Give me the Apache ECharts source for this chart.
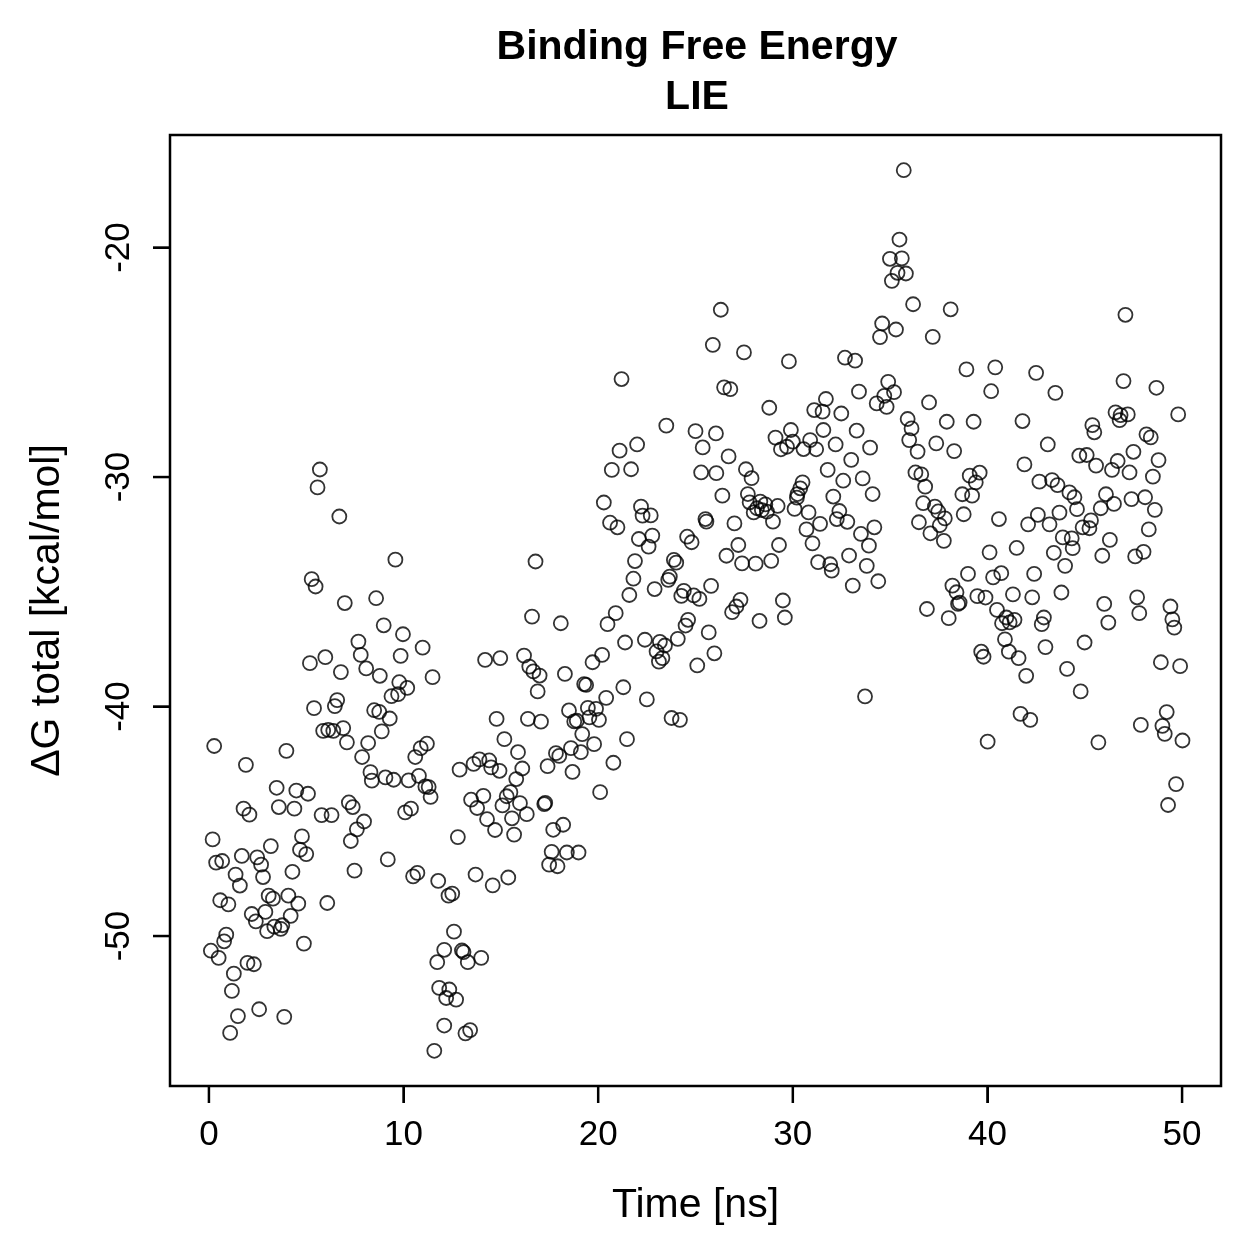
<!DOCTYPE html>
<html>
<head>
<meta charset="utf-8">
<script src="https://cdn.jsdelivr.net/npm/echarts@6/dist/echarts.min.js"></script>
<style>
  html, body { margin: 0; padding: 0; background: #fff; }
  #main { width: 1259px; height: 1259px; }
</style>
</head>
<body>
<div id="main"></div>
<script>
var timeNs = [
  0.10, 0.19, 0.27, 0.37, 0.50, 0.58, 0.68, 0.78, 0.89, 1.00,
  1.09, 1.18, 1.28, 1.37, 1.49, 1.59, 1.69, 1.78, 1.90, 1.98,
  2.08, 2.20, 2.31, 2.41, 2.48, 2.58, 2.68, 2.78, 2.90, 2.99,
  3.07, 3.18, 3.29, 3.36, 3.48, 3.59, 3.69, 3.77, 3.87, 3.98,
  4.08, 4.20, 4.29, 4.39, 4.49, 4.59, 4.68, 4.78, 4.88, 5.00,
  5.09, 5.19, 5.28, 5.40, 5.48, 5.58, 5.70, 5.79, 5.87, 5.98,
  6.08, 6.13, 6.30, 6.39, 6.47, 6.59, 6.70, 6.78, 6.90, 6.98,
  7.09, 7.19, 7.29, 7.39, 7.48, 7.60, 7.68, 7.80, 7.87, 7.97,
  8.08, 8.18, 8.30, 8.37, 8.49, 8.59, 8.75, 8.78, 8.88, 8.98,
  9.07, 9.19, 9.29, 9.38, 9.49, 9.58, 9.72, 9.78, 9.85, 9.97,
  10.08, 10.19, 10.26, 10.38, 10.49, 10.60, 10.71, 10.79, 10.88, 10.98,
  11.12, 11.20, 11.29, 11.39, 11.49, 11.58, 11.73, 11.78, 11.83, 12.09,
  12.09, 12.19, 12.31, 12.35, 12.50, 12.59, 12.70, 12.79, 12.88, 13.00,
  13.08, 13.18, 13.30, 13.42, 13.47, 13.60, 13.70, 13.78, 13.90, 13.99,
  14.10, 14.19, 14.29, 14.40, 14.50, 14.58, 14.70, 14.78, 14.93, 14.97,
  15.08, 15.18, 15.30, 15.38, 15.49, 15.57, 15.68, 15.79, 15.88, 15.98,
  16.10, 16.19, 16.33, 16.39, 16.46, 16.60, 16.67, 16.78, 16.89, 16.99,
  17.06, 17.23, 17.28, 17.40, 17.48, 17.61, 17.69, 17.83, 17.91, 18.00,
  18.08, 18.20, 18.29, 18.39, 18.50, 18.60, 18.68, 18.77, 18.90, 18.99,
  19.11, 19.18, 19.28, 19.38, 19.47, 19.55, 19.71, 19.79, 19.89, 20.04,
  20.10, 20.20, 20.29, 20.41, 20.48, 20.61, 20.70, 20.78, 20.90, 20.99,
  21.10, 21.20, 21.29, 21.38, 21.48, 21.60, 21.69, 21.81, 21.89, 22.00,
  22.09, 22.20, 22.28, 22.40, 22.50, 22.59, 22.70, 22.78, 22.90, 23.00,
  23.12, 23.17, 23.30, 23.43, 23.50, 23.60, 23.68, 23.77, 23.89, 24.01,
  24.09, 24.20, 24.27, 24.40, 24.49, 24.57, 24.62, 24.80, 24.91, 25.00,
  25.09, 25.20, 25.29, 25.37, 25.51, 25.56, 25.68, 25.80, 25.89, 25.97,
  26.05, 26.07, 26.30, 26.38, 26.47, 26.59, 26.70, 26.79, 26.88, 27.00,
  27.10, 27.20, 27.31, 27.39, 27.49, 27.59, 27.69, 27.78, 27.88, 27.99,
  28.09, 28.16, 28.29, 28.33, 28.41, 28.59, 28.67, 28.79, 28.89, 28.98,
  29.11, 29.22, 29.29, 29.39, 29.49, 29.59, 29.70, 29.80, 29.90, 30.00,
  30.09, 30.21, 30.24, 30.38, 30.50, 30.55, 30.70, 30.81, 30.89, 31.01,
  31.10, 31.20, 31.30, 31.40, 31.53, 31.57, 31.70, 31.79, 31.92, 32.00,
  32.08, 32.20, 32.26, 32.39, 32.49, 32.59, 32.68, 32.80, 32.89, 33.00,
  33.08, 33.20, 33.28, 33.40, 33.50, 33.59, 33.71, 33.80, 33.91, 33.97,
  34.10, 34.19, 34.31, 34.39, 34.48, 34.59, 34.70, 34.82, 34.90, 34.99,
  35.09, 35.20, 35.30, 35.38, 35.48, 35.60, 35.70, 35.81, 35.90, 35.98,
  36.10, 36.18, 36.30, 36.41, 36.48, 36.60, 36.70, 36.80, 36.89, 37.00,
  37.07, 37.19, 37.30, 37.37, 37.47, 37.55, 37.76, 37.81, 37.91, 38.01,
  38.11, 38.20, 38.29, 38.41, 38.49, 38.57, 38.71, 38.78, 38.92, 39.00,
  39.09, 39.21, 39.29, 39.40, 39.48, 39.60, 39.68, 39.80, 39.90, 40.01,
  40.11, 40.19, 40.29, 40.40, 40.49, 40.59, 40.71, 40.75, 40.90, 40.97,
  41.10, 41.14, 41.31, 41.39, 41.50, 41.60, 41.70, 41.80, 41.90, 41.99,
  42.09, 42.20, 42.30, 42.40, 42.50, 42.59, 42.67, 42.79, 42.90, 42.98,
  43.10, 43.19, 43.32, 43.41, 43.49, 43.60, 43.70, 43.80, 43.87, 43.99,
  44.09, 44.21, 44.33, 44.38, 44.47, 44.60, 44.72, 44.79, 44.89, 44.99,
  45.10, 45.24, 45.32, 45.39, 45.49, 45.58, 45.70, 45.82, 45.90, 46.00,
  46.09, 46.21, 46.29, 46.40, 46.50, 46.58, 46.69, 46.79, 46.84, 46.99,
  47.09, 47.21, 47.30, 47.40, 47.50, 47.59, 47.69, 47.80, 47.88, 48.02,
  48.10, 48.17, 48.29, 48.39, 48.50, 48.60, 48.68, 48.79, 48.91, 48.99,
  49.11, 49.21, 49.28, 49.40, 49.50, 49.60, 49.69, 49.80, 49.90, 50.02
];

var dGtotal = [
  -50.64, -45.79, -41.72, -46.80, -50.95, -48.44, -46.73, -50.23, -49.94, -48.62,
  -54.22, -52.39, -51.64, -47.32, -53.49, -47.80, -46.51, -44.45, -42.54, -51.17,
  -44.71, -49.04, -51.23, -49.36, -46.57, -53.19, -46.89, -47.43, -48.95, -49.79,
  -48.24, -46.08, -48.37, -49.59, -43.54, -44.38, -49.69, -49.53, -53.52, -41.93,
  -48.24, -49.12, -47.20, -44.45, -43.66, -48.59, -46.24, -45.66, -50.33, -46.43,
  -43.80, -38.11, -34.45, -40.07, -34.77, -30.45, -29.67, -44.73, -41.06, -37.85,
  -48.56, -41.02, -44.73, -41.06, -39.98, -39.72, -31.72, -38.50, -40.94, -35.49,
  -41.56, -44.18, -45.86, -44.38, -47.15, -45.35, -37.17, -37.75, -42.20, -45.01,
  -38.34, -41.59, -42.86, -43.23, -40.16, -35.28, -40.23, -38.66, -41.08, -36.46,
  -43.09, -46.66, -40.52, -39.55, -43.19, -33.60, -39.46, -38.94, -37.79, -36.85,
  -44.61, -39.19, -43.22, -44.45, -47.40, -42.20, -47.25, -43.02, -41.81, -37.43,
  -43.48, -41.62, -43.51, -43.94, -38.72, -55.00, -51.14, -47.60, -52.26, -50.60,
  -53.90, -52.70, -48.24, -52.33, -48.15, -49.81, -52.77, -45.69, -42.75, -50.63,
  -50.70, -54.24, -51.14, -54.10, -44.06, -42.50, -47.32, -44.42, -42.30, -50.95,
  -43.89, -37.97, -44.91, -42.35, -42.65, -47.79, -45.38, -40.54, -42.80, -37.89,
  -44.31, -41.42, -43.91, -47.45, -43.73, -44.87, -45.58, -43.16, -41.99, -44.21,
  -42.70, -37.78, -44.69, -40.54, -38.26, -36.08, -38.47, -33.68, -39.34, -38.65,
  -40.66, -44.25, -44.20, -42.60, -46.89, -46.33, -45.37, -42.03, -46.96, -42.15,
  -36.37, -45.15, -38.58, -46.36, -40.17, -41.81, -42.85, -40.65, -40.62, -46.36,
  -41.99, -41.20, -39.02, -39.06, -40.06, -40.47, -38.07, -41.64, -40.10, -40.58,
  -43.73, -37.75, -31.11, -39.62, -36.41, -31.99, -29.69, -42.45, -35.93, -32.19,
  -28.85, -25.73, -39.16, -37.21, -41.42, -35.14, -29.66, -34.43, -33.66, -28.58,
  -32.70, -31.29, -31.68, -37.09, -39.69, -33.03, -31.67, -32.55, -34.88, -37.60,
  -38.04, -37.18, -37.89, -37.34, -27.76, -34.48, -34.34, -40.50, -33.61, -33.73,
  -37.05, -40.58, -35.18, -34.96, -36.47, -32.60, -36.22, -32.84, -35.16, -28.00,
  -38.21, -35.31, -29.80, -28.71, -31.83, -31.94, -36.77, -34.74, -24.24, -37.68,
  -28.10, -29.83, -22.71, -30.81, -26.09, -33.43, -29.10, -26.17, -35.89, -32.02,
  -35.64, -32.96, -35.35, -33.76, -24.57, -29.66, -30.74, -31.10, -30.05, -31.54,
  -33.77, -31.36, -36.27, -31.07, -31.44, -31.19, -31.51, -26.98, -33.65, -31.94,
  -28.28, -31.26, -32.96, -28.79, -35.38, -36.12, -28.68, -24.96, -27.95, -28.46,
  -31.39, -30.90, -30.74, -30.49, -30.23, -28.78, -32.28, -31.54, -28.39, -32.89,
  -27.08, -28.79, -33.71, -32.04, -27.15, -27.95, -26.60, -29.69, -33.80, -34.08,
  -30.85, -28.58, -31.83, -31.48, -27.23, -30.16, -24.80, -31.95, -33.42, -29.25,
  -34.73, -24.93, -27.98, -26.28, -32.48, -30.06, -39.56, -33.87, -32.99, -28.72,
  -30.74, -32.19, -26.79, -34.54, -23.90, -23.31, -26.46, -26.94, -25.85, -20.49,
  -21.45, -26.30, -23.57, -21.10, -19.65, -20.47, -16.63, -21.13, -27.47, -28.39,
  -27.88, -22.47, -29.80, -28.89, -31.97, -29.88, -31.14, -30.42, -35.75, -26.75,
  -32.45, -23.89, -31.29, -28.53, -31.50, -32.10, -32.78, -31.80, -27.59, -36.15,
  -22.69, -34.73, -28.87, -35.02, -35.53, -35.47, -30.75, -31.62, -25.31, -34.22,
  -29.94, -30.81, -27.59, -30.23, -35.19, -29.81, -37.61, -37.83, -35.25, -41.53,
  -33.28, -26.26, -34.37, -25.22, -35.79, -31.83, -34.19, -36.37, -37.07, -36.12,
  -37.61, -36.33, -35.11, -36.22, -33.09, -37.89, -40.32, -27.56, -29.45, -38.66,
  -32.06, -40.58, -35.24, -34.22, -25.46, -31.65, -30.20, -36.41, -36.12, -37.41,
  -28.58, -32.06, -30.13, -33.30, -26.33, -30.35, -31.55, -35.03, -32.63, -33.87,
  -38.36, -30.67, -32.67, -33.10, -30.88, -31.40, -29.07, -39.34, -32.19, -37.21,
  -29.04, -32.23, -31.89, -27.74, -28.05, -29.50, -41.56, -31.36, -33.43, -35.53,
  -30.75, -36.34, -32.74, -29.69, -31.17, -27.18, -29.30, -27.52, -27.30, -25.82,
  -22.93, -27.27, -29.80, -30.96, -28.90, -33.46, -35.24, -35.93, -40.80, -33.26,
  -30.88, -28.14, -32.28, -28.27, -29.98, -31.43, -26.11, -29.26, -38.07, -40.84,
  -41.19, -40.24, -44.29, -35.64, -36.20, -36.56, -43.38, -27.27, -38.24, -41.48
];

var xTicks = [0, 10, 20, 30, 40, 50];
var yTicks = [-50, -40, -30, -20];

// R-style axis limits: data range widened by 4% each side
var xMin = 0, xMax = 50;
var yMin = Math.min.apply(null, dGtotal), yMax = Math.max.apply(null, dGtotal);
var xPad = (xMax - xMin) * 0.04, yPad = (yMax - yMin) * 0.04;
var xLo = xMin - xPad, xHi = xMax + xPad;
var yLo = yMin - yPad, yHi = yMax + yPad;

var points = timeNs.map(function (t, i) {
  return [t, dGtotal[i]];
});

var fontFam = '"Liberation Sans", Arial, Helvetica, sans-serif';
var black = '#000';
var tickLen = 17;
var tickW = 2.5;

// outward tick marks as thin filled bars, placed through the axes' own scales
function tickSeries(data, horizontal) {
  return {
    type: 'custom',
    coordinateSystem: 'cartesian2d',
    silent: true,
    clip: false,
    z: 10,
    encode: { x: 0, y: 1 },
    data: data,
    renderItem: function (params, api) {
      var p = api.coord([api.value(0), api.value(1)]);
      var shape = horizontal
        ? { x: p[0] - tickLen, y: p[1] - tickW / 2, width: tickLen, height: tickW }
        : { x: p[0] - tickW / 2, y: p[1], width: tickW, height: tickLen };
      return {
        type: 'rect',
        shape: shape,
        style: { fill: black }
      };
    }
  };
}

var myChart = echarts.init(document.getElementById('main'));

var option = {
  backgroundColor: '#fff',
  animation: false,
  title: {
    text: 'Binding Free Energy\nLIE',
    left: 692,
    top: 18,
    textAlign: 'center',
    textStyle: {
      fontFamily: fontFam,
      fontSize: 41,
      fontWeight: 'bold',
      color: black,
      lineHeight: 50
    }
  },
  grid: {
    left: 170,
    right: 38,
    top: 135,
    bottom: 173,
    show: true,
    borderColor: black,
    borderWidth: 2.5,
    backgroundColor: 'transparent'
  },
  xAxis: {
    type: 'value',
    min: xLo,
    max: xHi,
    name: 'Time [ns]',
    nameLocation: 'middle',
    nameGap: 99,
    nameTextStyle: { fontFamily: fontFam, fontSize: 41, color: black },
    axisLine: { show: false, onZero: false },
    splitLine: { show: false },
    axisTick: {
      show: true,
      length: tickLen,
      customValues: xTicks,
      lineStyle: { color: black, width: 2 }
    },
    axisLabel: {
      customValues: xTicks,
      fontFamily: fontFam,
      fontSize: 35,
      color: black,
      margin: 32
    }
  },
  yAxis: {
    type: 'value',
    min: yLo,
    max: yHi,
    name: 'ΔG total [kcal/mol]',
    nameLocation: 'middle',
    nameGap: 102,
    nameTextStyle: { fontFamily: fontFam, fontSize: 41, color: black },
    axisLine: { show: false, onZero: false },
    splitLine: { show: false },
    axisTick: {
      show: true,
      length: tickLen,
      customValues: yTicks,
      lineStyle: { color: black, width: 2 }
    },
    axisLabel: {
      customValues: yTicks,
      rotate: 90,
      fontFamily: fontFam,
      fontSize: 35,
      color: black,
      margin: 33
    }
  },
  series: [{
    type: 'scatter',
    data: points,
    symbol: 'circle',
    symbolSize: 14,
    itemStyle: {
      color: 'rgba(0,0,0,0)',
      borderColor: black,
      borderWidth: 1.8
    }
  },
  tickSeries(xTicks.map(function (v) { return [v, yLo]; }), false),
  tickSeries(yTicks.map(function (v) { return [xLo, v]; }), true)
  ]
};

myChart.setOption(option);
</script>
</body>
</html>
